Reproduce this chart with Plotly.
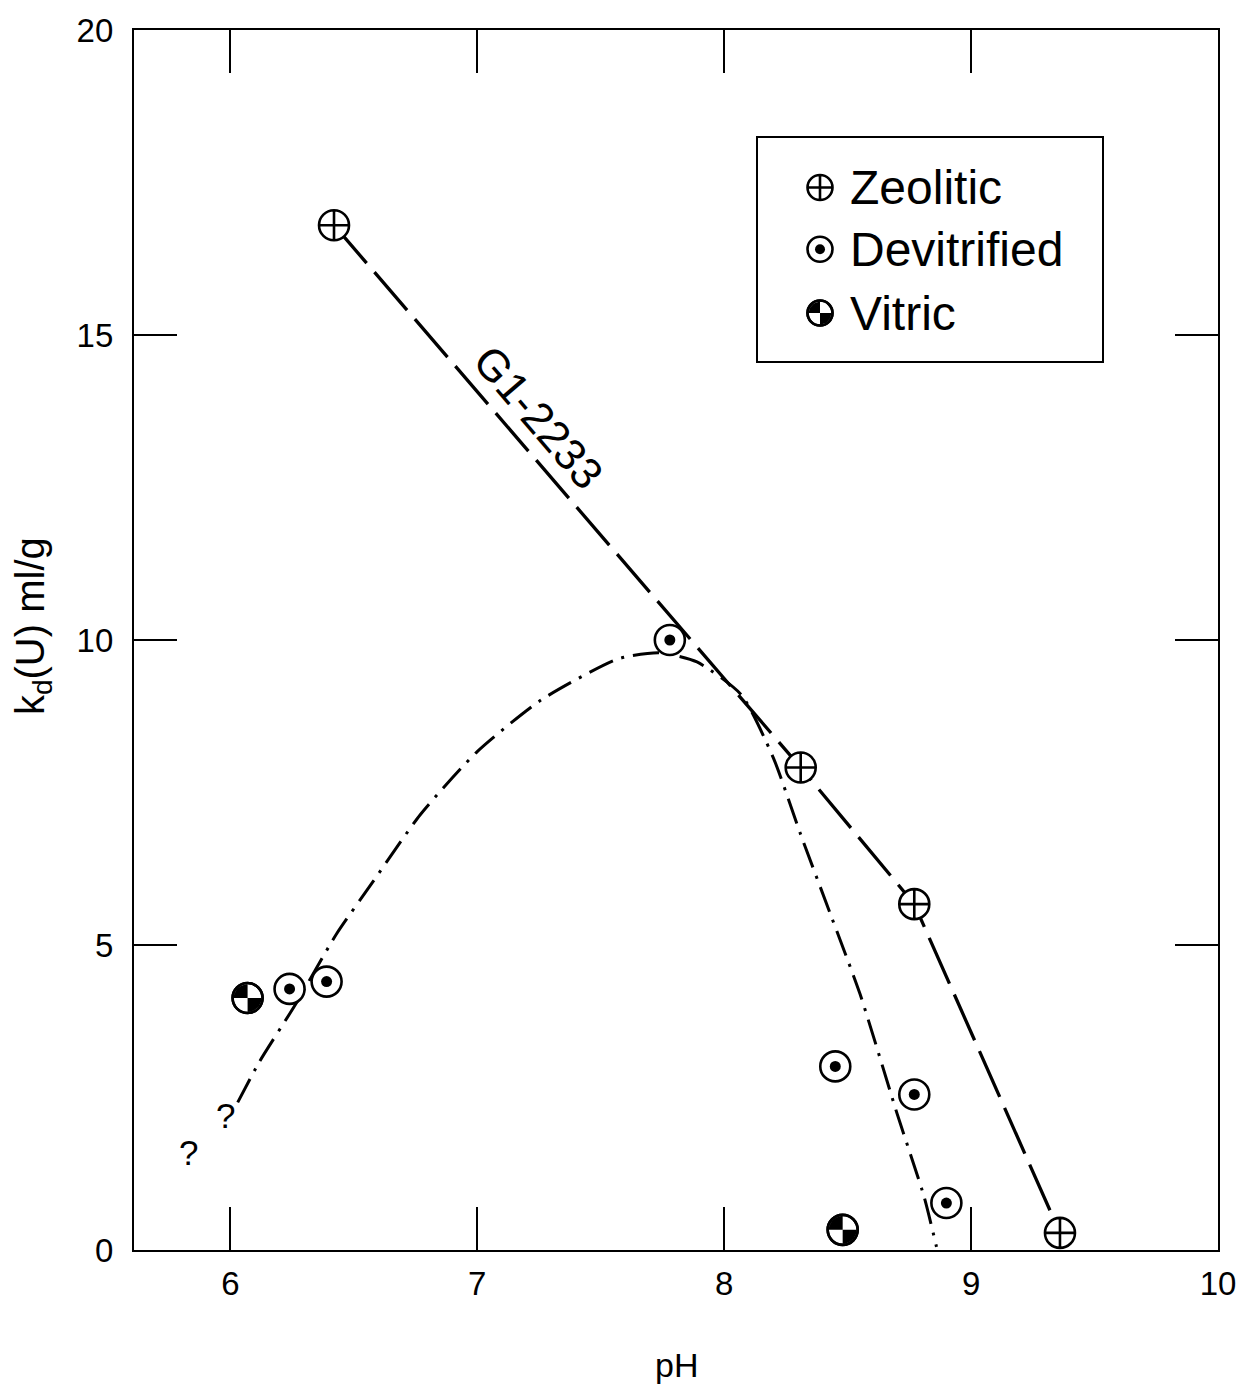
import numpy as np
import plotly.graph_objects as go

# ---------------- data ----------------
zeo_ph = [6.42, 8.31, 8.77, 9.36]
zeo_kd = [16.80, 7.91, 5.67, 0.28]

dev_ph = [7.78, 6.24, 6.39, 8.45, 8.77, 8.90]
dev_kd = [10.00, 4.28, 4.40, 3.01, 2.55, 0.77]

vit_ph = [6.07, 8.48]
vit_kd = [4.13, 0.33]

curve_ph = [6.03, 6.12, 6.26, 6.43, 6.58, 6.77, 7.00, 7.26, 7.57, 7.74,
            7.89, 8.07, 8.20, 8.31, 8.43, 8.55, 8.70, 8.81, 8.86]
curve_kd = [2.42, 3.10, 4.00, 5.18, 6.05, 7.14, 8.17, 9.02, 9.69, 9.79,
            9.64, 9.10, 8.06, 6.81, 5.51, 4.20, 2.24, 0.87, 0.05]

x_ticks = [6, 7, 8, 9, 10]
y_ticks = [0, 5, 10, 15, 20]
legend_names = ["Zeolitic", "Devitrified", "Vitric"]
curve_label = "G1-2233"
q_marks_ph = [5.83, 5.98]
q_marks_kd = [1.60, 2.21]

# ---------------- layout geometry ----------------
W, H = 1257, 1386
ML, MR, MT, MB = 134, 39, 26, 136
PW, PH_ = W - ML - MR, H - MT - MB
XR = [5.61, 10]
YR = [0, 20]
SX = PW / (XR[1] - XR[0])
SY = PH_ / (YR[1] - YR[0])
FONT = "Liberation Sans, Arial, Helvetica, sans-serif"

MS = 30          # marker diameter
MLW = 2.6        # marker outline
DOT = 11


def quadrants(xs, ys, sx, sy, r):
    px, py = [], []
    for xc, yc in zip(xs, ys):
        for a0 in (90, 270):
            t = np.radians(np.linspace(a0, a0 + 90, 16))
            px += [xc] + list(xc + r * np.cos(t) / sx) + [xc, None]
            py += [yc] + list(yc + r * np.sin(t) / sy) + [yc, None]
    return px, py


fig = go.Figure()

# dash-dot curve
fig.add_trace(go.Scatter(x=curve_ph, y=curve_kd, mode="lines",
                         line=dict(color="black", width=3, dash="26px,9px,3px,9px",
                                   shape="spline", smoothing=0.6),
                         hoverinfo="skip", showlegend=False))
# zeolitic dashed line
fig.add_trace(go.Scatter(x=zeo_ph, y=zeo_kd, mode="lines",
                         line=dict(color="black", width=3.3, dash="50px,12px"),
                         hoverinfo="skip", showlegend=False))


def add_symbols(xs, ys, kind, xa="x", ya="y", sx=SX, sy=SY, ms=MS, dot=DOT):
    rq = ms / 2 - 1.1
    if kind == 0:
        fig.add_trace(go.Scatter(x=xs, y=ys, mode="markers", xaxis=xa, yaxis=ya,
                                 marker=dict(symbol="circle-cross", size=ms, color="white",
                                             line=dict(color="black", width=MLW)),
                                 showlegend=False))
    elif kind == 1:
        fig.add_trace(go.Scatter(x=xs, y=ys, mode="markers", xaxis=xa, yaxis=ya,
                                 marker=dict(symbol="circle", size=ms, color="white",
                                             line=dict(color="black", width=MLW)),
                                 showlegend=False))
        fig.add_trace(go.Scatter(x=xs, y=ys, mode="markers", xaxis=xa, yaxis=ya,
                                 marker=dict(symbol="circle", size=dot, color="black",
                                             line=dict(width=0)),
                                 showlegend=False))
    else:
        fig.add_trace(go.Scatter(x=xs, y=ys, mode="markers", xaxis=xa, yaxis=ya,
                                 marker=dict(symbol="circle", size=ms, color="white",
                                             line=dict(color="black", width=MLW)),
                                 showlegend=False))
        qx, qy = quadrants(xs, ys, sx, sy, rq)
        fig.add_trace(go.Scatter(x=qx, y=qy, mode="lines", fill="toself",
                                 xaxis=xa, yaxis=ya,
                                 fillcolor="black", line=dict(width=0, color="black"),
                                 hoverinfo="skip", showlegend=False))
        fig.add_trace(go.Scatter(x=xs, y=ys, mode="markers", xaxis=xa, yaxis=ya,
                                 marker=dict(symbol="circle-open", size=ms, color="black",
                                             line=dict(color="black", width=MLW)),
                                 showlegend=False))


add_symbols(zeo_ph, zeo_kd, 0)
add_symbols(dev_ph, dev_kd, 1)
add_symbols(vit_ph, vit_kd, 2)

# ---------------- legend box as small inset axes ----------------
LB = dict(x0=758, x1=1102, y0=134, y1=358)   # pixel box
lw, lh = LB["x1"] - LB["x0"], LB["y1"] - LB["y0"]
leg_sym_x = 62
leg_txt_x = 90
leg_y = [174, 112, 48]
for i in range(3):
    add_symbols([leg_sym_x], [leg_y[i]], i, xa="x2", ya="y2", sx=1, sy=1, ms=25, dot=10)

axis_common = dict(showgrid=False, zeroline=False, color="black")
fig.update_layout(
    width=W, height=H,
    margin=dict(l=ML, r=MR, t=MT, b=MB, pad=0),
    paper_bgcolor="white", plot_bgcolor="white",
    font=dict(family=FONT, color="black"),
    showlegend=False,
    xaxis=dict(range=XR, tickvals=x_ticks, ticktext=[str(v) for v in x_ticks],
               ticks="inside", ticklen=43, tickwidth=1.5, tickcolor="black",
               showline=True, linewidth=2.2, linecolor="black", mirror="ticks",
               tickfont=dict(size=33, family=FONT), ticklabelstandoff=3,
               domain=[0, 1], anchor="y", **axis_common),
    yaxis=dict(range=YR, tickvals=y_ticks, ticktext=[str(v) for v in y_ticks],
               ticks="inside", ticklen=43, tickwidth=1.5, tickcolor="black",
               showline=True, linewidth=2.2, linecolor="black", mirror="ticks",
               tickfont=dict(size=33, family=FONT), ticklabelstandoff=12,
               domain=[0, 1], anchor="x", **axis_common),
    xaxis2=dict(domain=[(LB["x0"] - ML) / PW, (LB["x1"] - ML) / PW],
                range=[0, lw], showline=True, linewidth=1.6, linecolor="black",
                mirror=True, ticks="", showticklabels=False, anchor="y2",
                fixedrange=True, **axis_common),
    yaxis2=dict(domain=[(H - MB - LB["y1"]) / PH_, (H - MB - LB["y0"]) / PH_],
                range=[0, lh], showline=True, linewidth=1.6, linecolor="black",
                mirror=True, ticks="", showticklabels=False, anchor="x2",
                fixedrange=True, **axis_common),
)

ann = []
for i, name in enumerate(legend_names):
    ann.append(dict(x=leg_txt_x, y=leg_y[i], xref="x2", yref="y2", text=name,
                    showarrow=False, xanchor="left", yanchor="middle",
                    font=dict(size=48, family=FONT, color="black")))

# curve label along zeolitic line
ang = np.degrees(np.arctan2((zeo_kd[0] - zeo_kd[1]) * SY, (zeo_ph[1] - zeo_ph[0]) * SX))
ann.append(dict(x=7.25, y=13.65, xref="x", yref="y", text=curve_label, showarrow=False,
                textangle=ang, font=dict(size=44, family=FONT, color="black")))
for qx, qy in zip(q_marks_ph, q_marks_kd):
    ann.append(dict(x=qx, y=qy, xref="x", yref="y", text="?", showarrow=False,
                    font=dict(size=35, family=FONT, color="black")))

# axis titles
ann.append(dict(x=0.5, y=(H - MB - 1365) / PH_, xref="paper", yref="paper", text="pH",
                showarrow=False, xanchor="center", yanchor="middle",
                font=dict(size=34, family=FONT, color="black")))
ann.append(dict(x=(33 - ML) / PW, y=(H - MB - 624) / PH_, xref="paper", yref="paper",
                text="k<sub>d</sub>(U) ml/g", textangle=-90, showarrow=False,
                xanchor="center", yanchor="middle",
                font=dict(size=40, family=FONT, color="black")))
fig.update_layout(annotations=ann)

fig.write_html("out.html")
